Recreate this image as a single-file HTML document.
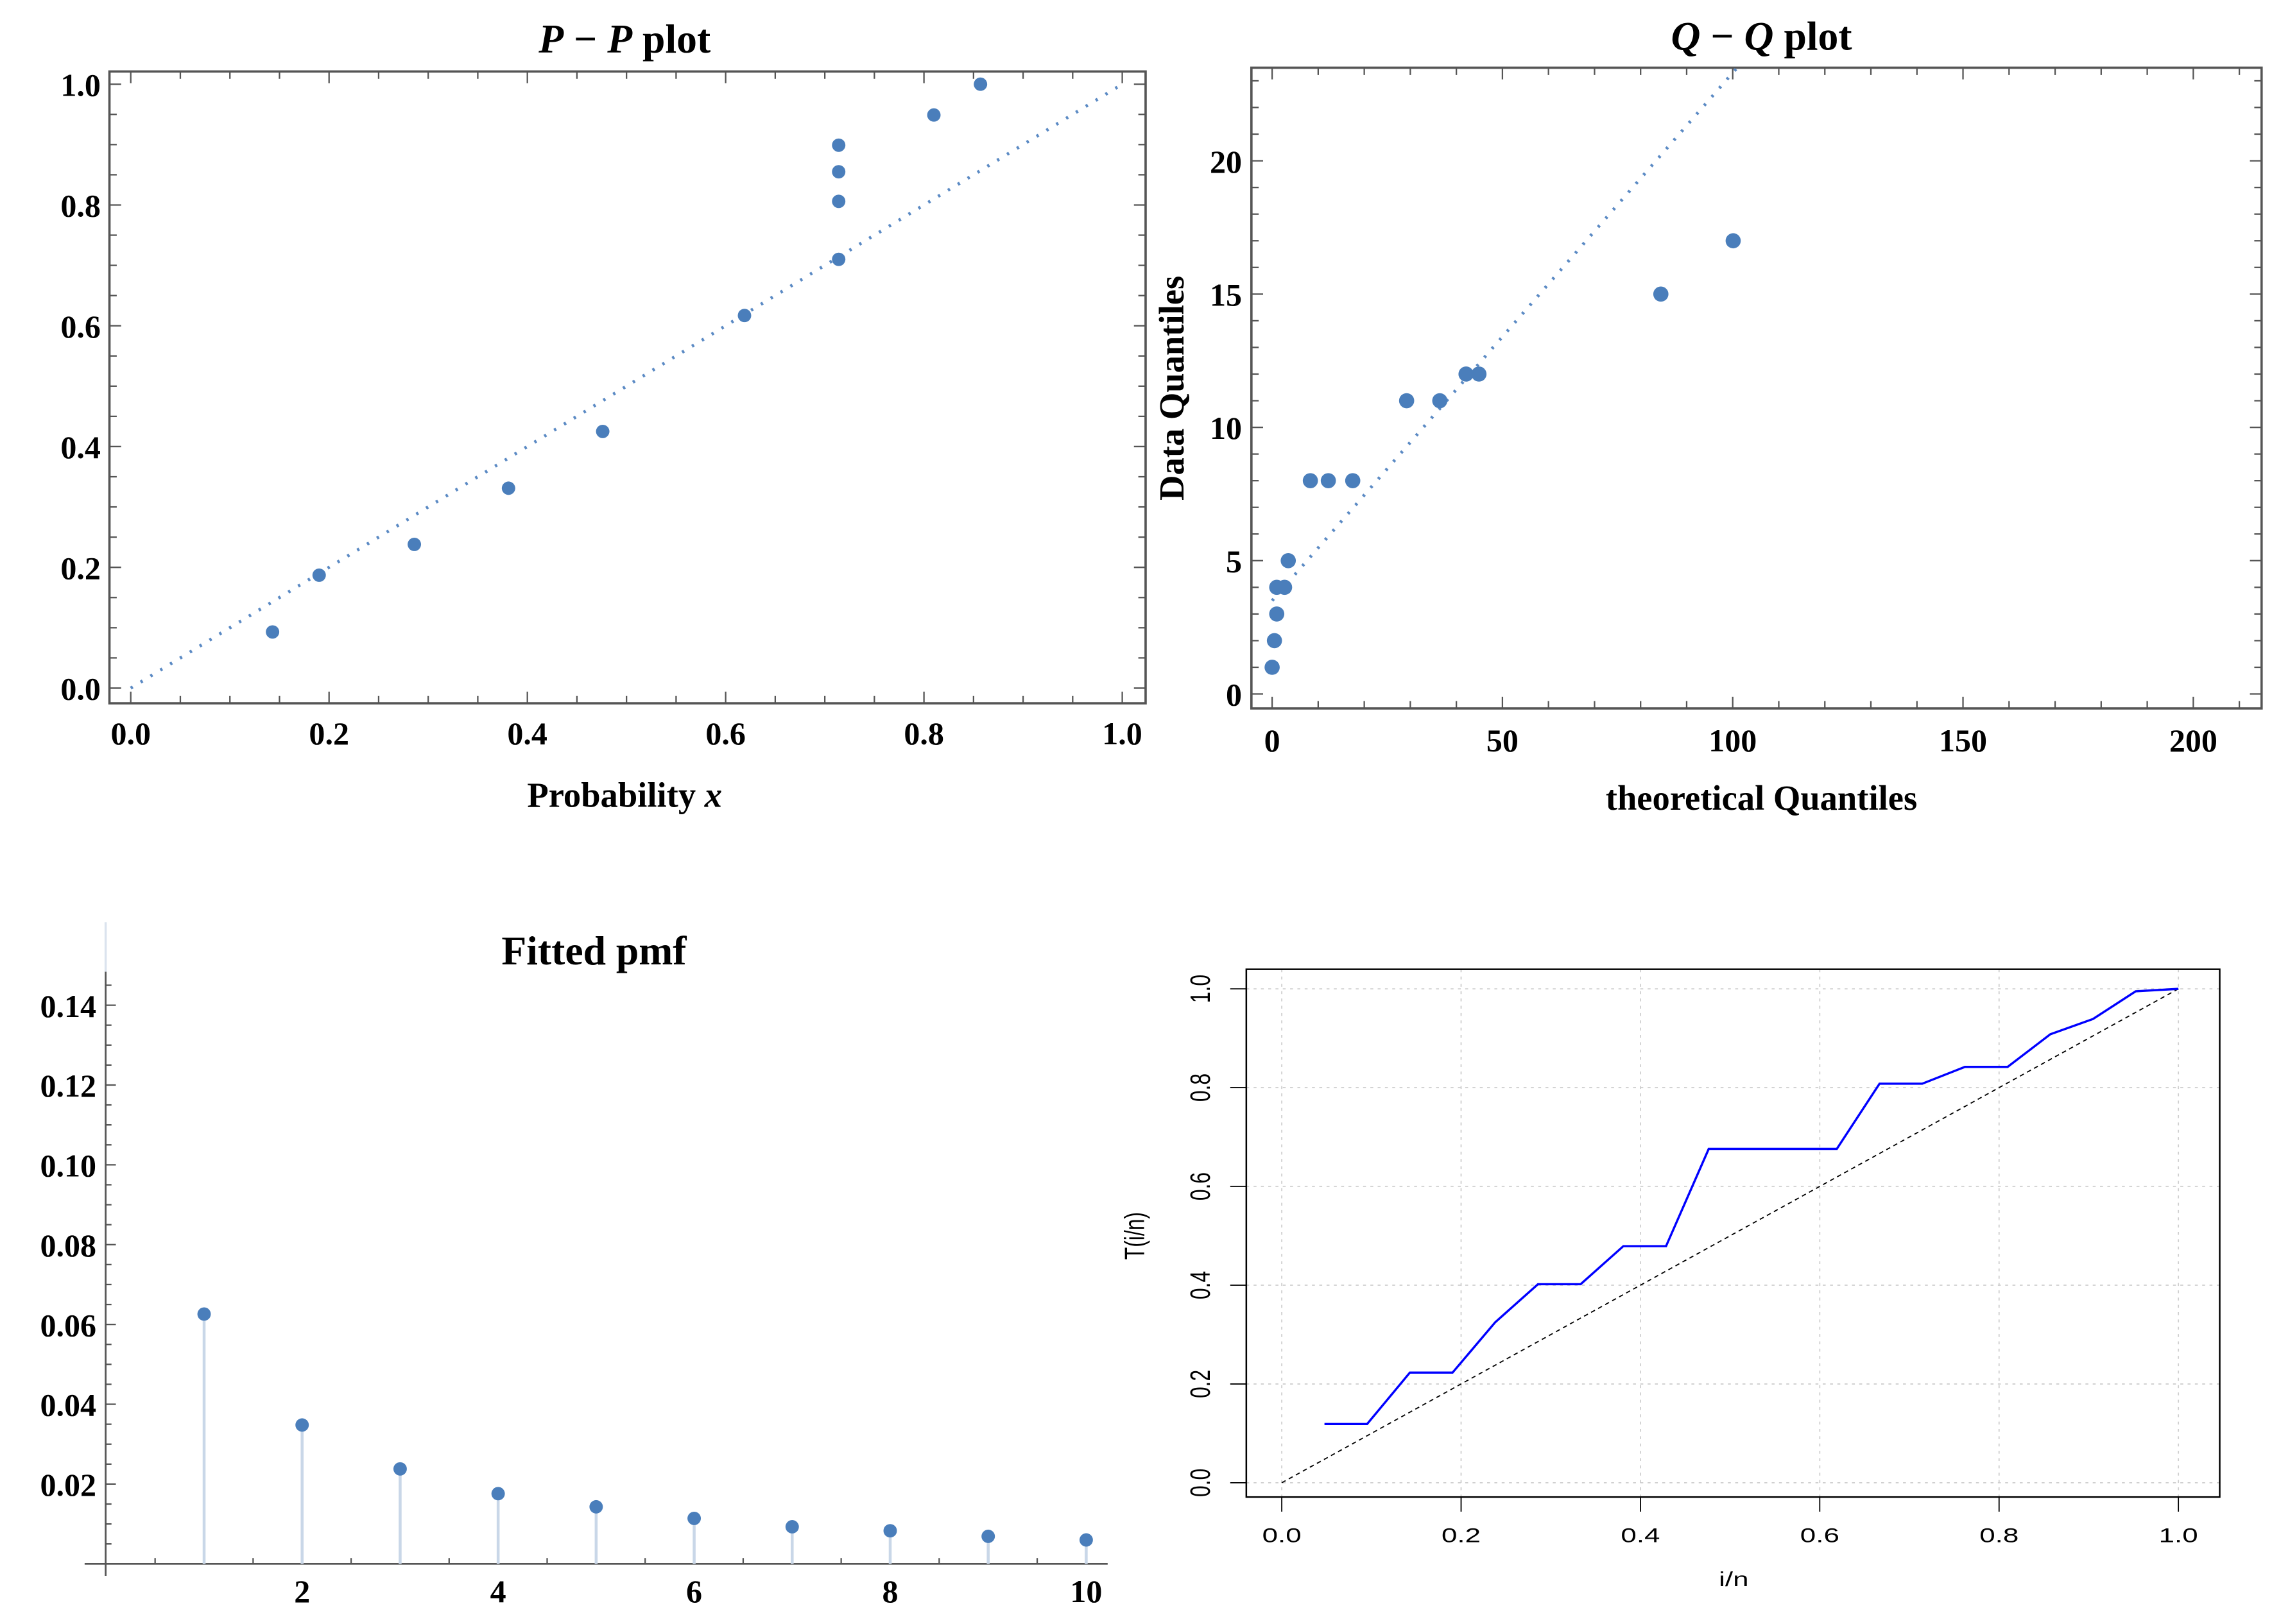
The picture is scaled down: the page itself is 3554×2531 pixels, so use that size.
<!DOCTYPE html>
<html><head><meta charset="utf-8">
<style>
html,body{margin:0;padding:0;background:#fff;}
svg{display:block;}
.mt{font-family:"Liberation Serif",serif;font-weight:bold;fill:#000;}
.rt{font-family:"Liberation Sans",sans-serif;fill:#000;}
</style></head>
<body>
<svg id="root" xmlns="http://www.w3.org/2000/svg" width="3554" height="2531" viewBox="0 0 1563 1113" preserveAspectRatio="none">
<rect x="0" y="0" width="1563" height="1113" fill="#fff"/>
<defs>
<clipPath id="qqclip"><rect x="857.5" y="46.4" width="692.2" height="439.1"/></clipPath>
</defs>
<g id="pp"></g>
<g id="qq"></g>
<g id="pmf"></g>
<g id="tt"></g>
</svg>
<script>
// ---------- data ----------
const ppX = [0.143,0.190,0.286,0.381,0.476,0.619,0.714,0.714,0.714,0.714,0.810,0.857];
const ppY = [0.093,0.187,0.238,0.331,0.425,0.617,0.710,0.806,0.855,0.899,0.949,1.000];
const ppTicks = [0,0.2,0.4,0.6,0.8,1.0];
const ppTickLabels = ["0.0","0.2","0.4","0.6","0.8","1.0"];

const qqX = [0,0.5,1.0,1.0,2.7,3.5,8.3,12.2,17.5,29.2,36.4,42.1,44.9,84.4,100.1];
const qqY = [1,2,3,4,4,5,8,8,8,11,11,12,12,15,17];
const qqLine = [3.5,0.198]; // intercept, slope
const qqXTicks = [0,50,100,150,200];
const qqYTicks = [0,5,10,15,20];

const pmfX = [1,2,3,4,5,6,7,8,9,10];
const pmfY = [0.0626,0.0348,0.0238,0.0176,0.0143,0.0114,0.0093,0.0083,0.0069,0.0060];
const pmfXTicks = [2,4,6,8,10];
const pmfYTicks = [0.02,0.04,0.06,0.08,0.10,0.12,0.14];
const pmfYLabels = ["0.02","0.04","0.06","0.08","0.10","0.12","0.14"];

const ttX = [1,2,3,4,5,6,7,8,9,10,13,14,15,16,17,18,19,20,21].map(i=>i/21);
const ttY = [0.119,0.119,0.223,0.223,0.325,0.402,0.402,0.479,0.479,0.676,0.676,0.808,0.808,0.842,0.842,0.908,0.939,0.995,1.0];
const ttTicks = [0,0.2,0.4,0.6,0.8,1.0];
const ttLabels = ["0.0","0.2","0.4","0.6","0.8","1.0"];

const NS="http://www.w3.org/2000/svg";
function mk(parent,tag,attrs,text){const e=document.createElementNS(NS,tag);for(const k in attrs)e.setAttribute(k,attrs[k]);if(text!==undefined)e.textContent=text;parent.appendChild(e);return e;}
const PT="#4a7ebb";

// ---------- P-P ----------
(function(){
const g=document.getElementById('pp');
const sx=v=>89.6+v*679.4, sy=v=>471.6-v*413.9;
const L=75,R=785,T=49,B=482;
for(let k=0;k<=20;k++){const v=k*0.05;const len=(k%4===0)?8:5;
 mk(g,'line',{x1:sx(v),x2:sx(v),y1:B,y2:B-len,stroke:'#555','stroke-width':1});
 mk(g,'line',{x1:sx(v),x2:sx(v),y1:T,y2:T+len,stroke:'#555','stroke-width':1});
 mk(g,'line',{x1:L,x2:L+len,y1:sy(v),y2:sy(v),stroke:'#555','stroke-width':1});
 mk(g,'line',{x1:R,x2:R-len,y1:sy(v),y2:sy(v),stroke:'#555','stroke-width':1});}
const fr=mk(g,'rect',{x:L,y:T,width:R-L,height:B-T,fill:'none',stroke:'#555','stroke-width':1.6});


const ln=mk(g,'line',{x1:sx(0),y1:sy(0),x2:sx(1),y2:sy(1),stroke:'#5b8ac4','stroke-width':2.2,'stroke-dasharray':'1.6 6.3'});


ppX.forEach((x,i)=>{const c=mk(g,'circle',{cx:sx(x),cy:sy(ppY[i]),r:4.6,fill:PT});
 
 });
ppTicks.forEach((v,i)=>{
 const t=mk(g,'text',{x:sx(v),y:510,class:'mt','font-size':22,'text-anchor':'middle'},ppTickLabels[i]);
 
 
 const u=mk(g,'text',{x:69,y:sy(v)+8,class:'mt','font-size':22,'text-anchor':'end'},ppTickLabels[i]);
 
 });
const ti=mk(g,'text',{x:428,y:36,class:'mt','font-size':28,'text-anchor':'middle'});


ti.innerHTML='<tspan font-style="italic">P</tspan> − <tspan font-style="italic">P</tspan> plot';
const xl=mk(g,'text',{x:428,y:553,class:'mt','font-size':24,'text-anchor':'middle'});


xl.innerHTML='Probability <tspan font-style="italic">x</tspan>';
})();

// ---------- Q-Q ----------
(function(){
const g=document.getElementById('qq');
const qx=v=>871.7+v*3.156, qy=v=>475.6-v*18.27;
const L=857.5,R=1549.7,T=46.4,B=485.5;
for(let v=0;v<=210;v+=10){const len=(v%50===0)?8:5;
 mk(g,'line',{x1:qx(v),x2:qx(v),y1:B,y2:B-len,stroke:'#555','stroke-width':1});
 mk(g,'line',{x1:qx(v),x2:qx(v),y1:T,y2:T+len,stroke:'#555','stroke-width':1});}
for(let v=0;v<=23;v++){const len=(v%5===0)?8:5;
 mk(g,'line',{x1:L,x2:L+len,y1:qy(v),y2:qy(v),stroke:'#555','stroke-width':1});
 mk(g,'line',{x1:R,x2:R-len,y1:qy(v),y2:qy(v),stroke:'#555','stroke-width':1});}
const fr=mk(g,'rect',{x:L,y:T,width:R-L,height:B-T,fill:'none',stroke:'#555','stroke-width':1.6});


const ln=mk(g,'line',{x1:qx(0),y1:qy(qqLine[0]),x2:qx(120),y2:qy(qqLine[0]+qqLine[1]*120),stroke:'#5b8ac4','stroke-width':2.2,'stroke-dasharray':'1.6 6.3','clip-path':'url(#qqclip)'});


qqX.forEach((x,i)=>{const c=mk(g,'circle',{cx:qx(x),cy:qy(qqY[i]),r:5.2,fill:PT});
 
 });
qqXTicks.forEach(v=>{const t=mk(g,'text',{x:qx(v),y:515,class:'mt','font-size':22,'text-anchor':'middle'},String(v));
 
 });
qqYTicks.forEach(v=>{const t=mk(g,'text',{x:851,y:qy(v)+8,class:'mt','font-size':22,'text-anchor':'end'},String(v));
 
 });
const ti=mk(g,'text',{x:1207,y:34,class:'mt','font-size':28,'text-anchor':'middle'});


ti.innerHTML='<tspan font-style="italic">Q</tspan> − <tspan font-style="italic">Q</tspan> plot';
const xl=mk(g,'text',{x:1207,y:555,class:'mt','font-size':24,'text-anchor':'middle'},'theoretical Quantiles');


const yl=mk(g,'text',{x:0,y:0,class:'mt','font-size':24,'text-anchor':'middle',transform:'translate(811,266) rotate(-90)'},'Data Quantiles');


})();

// ---------- Fitted pmf ----------
(function(){
const g=document.getElementById('pmf');
const px=v=>72.7+v*67.16, py=v=>1071.8-v/0.02*54.7;
mk(g,'line',{x1:72.4,x2:72.4,y1:632,y2:666,stroke:'#dbe3ee','stroke-width':1.5});
const ya=mk(g,'line',{x1:72.4,x2:72.4,y1:666,y2:1080,stroke:'#555','stroke-width':1.2});


const xa=mk(g,'line',{x1:58,x2:759,y1:1071.8,y2:1071.8,stroke:'#555','stroke-width':1.2});


for(let k=1;k<=30;k++){const v=k*0.005;if(py(v)<666)break;const len=(k%4===0)?7:4;
 mk(g,'line',{x1:72.4,x2:72.4+len,y1:py(v),y2:py(v),stroke:'#555','stroke-width':1});}
for(let k=1;k<=20;k++){const v=k*0.5;const len=(k%4===0)?7:4;
 mk(g,'line',{x1:px(v),x2:px(v),y1:1071.8,y2:1071.8-len,stroke:'#555','stroke-width':1});}
pmfX.forEach((x,i)=>{
 const s=mk(g,'line',{x1:px(x),x2:px(x),y1:1071.8,y2:py(pmfY[i]),stroke:'#c9d7e8','stroke-width':2});
 
 
 const c=mk(g,'circle',{cx:px(x),cy:py(pmfY[i]),r:4.6,fill:PT});
 
 });
pmfXTicks.forEach(v=>{const t=mk(g,'text',{x:px(v),y:1098,class:'mt','font-size':22,'text-anchor':'middle'},String(v));
 
 });
pmfYTicks.forEach((v,i)=>{const t=mk(g,'text',{x:66,y:py(v)+8,class:'mt','font-size':22,'text-anchor':'end'},pmfYLabels[i]);
 
 });
const ti=mk(g,'text',{x:407,y:661,class:'mt','font-size':28,'text-anchor':'middle'},'Fitted pmf');


})();

// ---------- TTT plot ----------
(function(){
const g=document.getElementById('tt');
const rx=v=>878.3+v*614.4, ry=v=>1016.2-v*338.5;
const L=854,R=1521,T=664.3,B=1026;
ttTicks.forEach(v=>{
 const a=mk(g,'line',{x1:rx(v),x2:rx(v),y1:T,y2:B,stroke:'#cfcfcf','stroke-width':0.8,'stroke-dasharray':'2 3'});
 
 
 const b=mk(g,'line',{x1:L,x2:R,y1:ry(v),y2:ry(v),stroke:'#cfcfcf','stroke-width':0.8,'stroke-dasharray':'2 3'});
 
 
 mk(g,'line',{x1:rx(v),x2:rx(v),y1:B,y2:B+10,stroke:'#000','stroke-width':0.8});
 mk(g,'line',{x1:L,x2:L-11,y1:ry(v),y2:ry(v),stroke:'#000','stroke-width':0.8});});
const fr=mk(g,'rect',{x:L,y:T,width:R-L,height:B-T,fill:'none',stroke:'#000','stroke-width':1.1});


const dl=mk(g,'line',{x1:rx(0),y1:ry(0),x2:rx(1),y2:ry(1),stroke:'#000','stroke-width':0.8,'stroke-dasharray':'3 2.5'});


const pl=mk(g,'polyline',{points:ttX.map((x,i)=>rx(x)+','+ry(ttY[i])).join(' '),fill:'none',stroke:'#0000ff','stroke-width':1.5});


ttTicks.forEach((v,i)=>{
 const t=mk(g,'text',{x:0,y:0,class:'rt','font-size':14,'text-anchor':'middle',transform:`translate(${rx(v)},1057) scale(1.38,1)`},ttLabels[i]);
 
 
 const u=mk(g,'text',{x:0,y:0,class:'rt','font-size':14,'text-anchor':'middle',transform:`translate(829,${ry(v)}) scale(1.38,1) rotate(-90)`},ttLabels[i]);
 
 });
const xl=mk(g,'text',{x:0,y:0,class:'rt','font-size':14,'text-anchor':'middle',transform:'translate(1188,1087) scale(1.38,1)'},'i/n');


const yl=mk(g,'text',{x:0,y:0,class:'rt','font-size':14,'text-anchor':'middle',transform:'translate(784,847) scale(1.38,1) rotate(-90)'},'T(i/n)');


})();
</script>
</body></html>
